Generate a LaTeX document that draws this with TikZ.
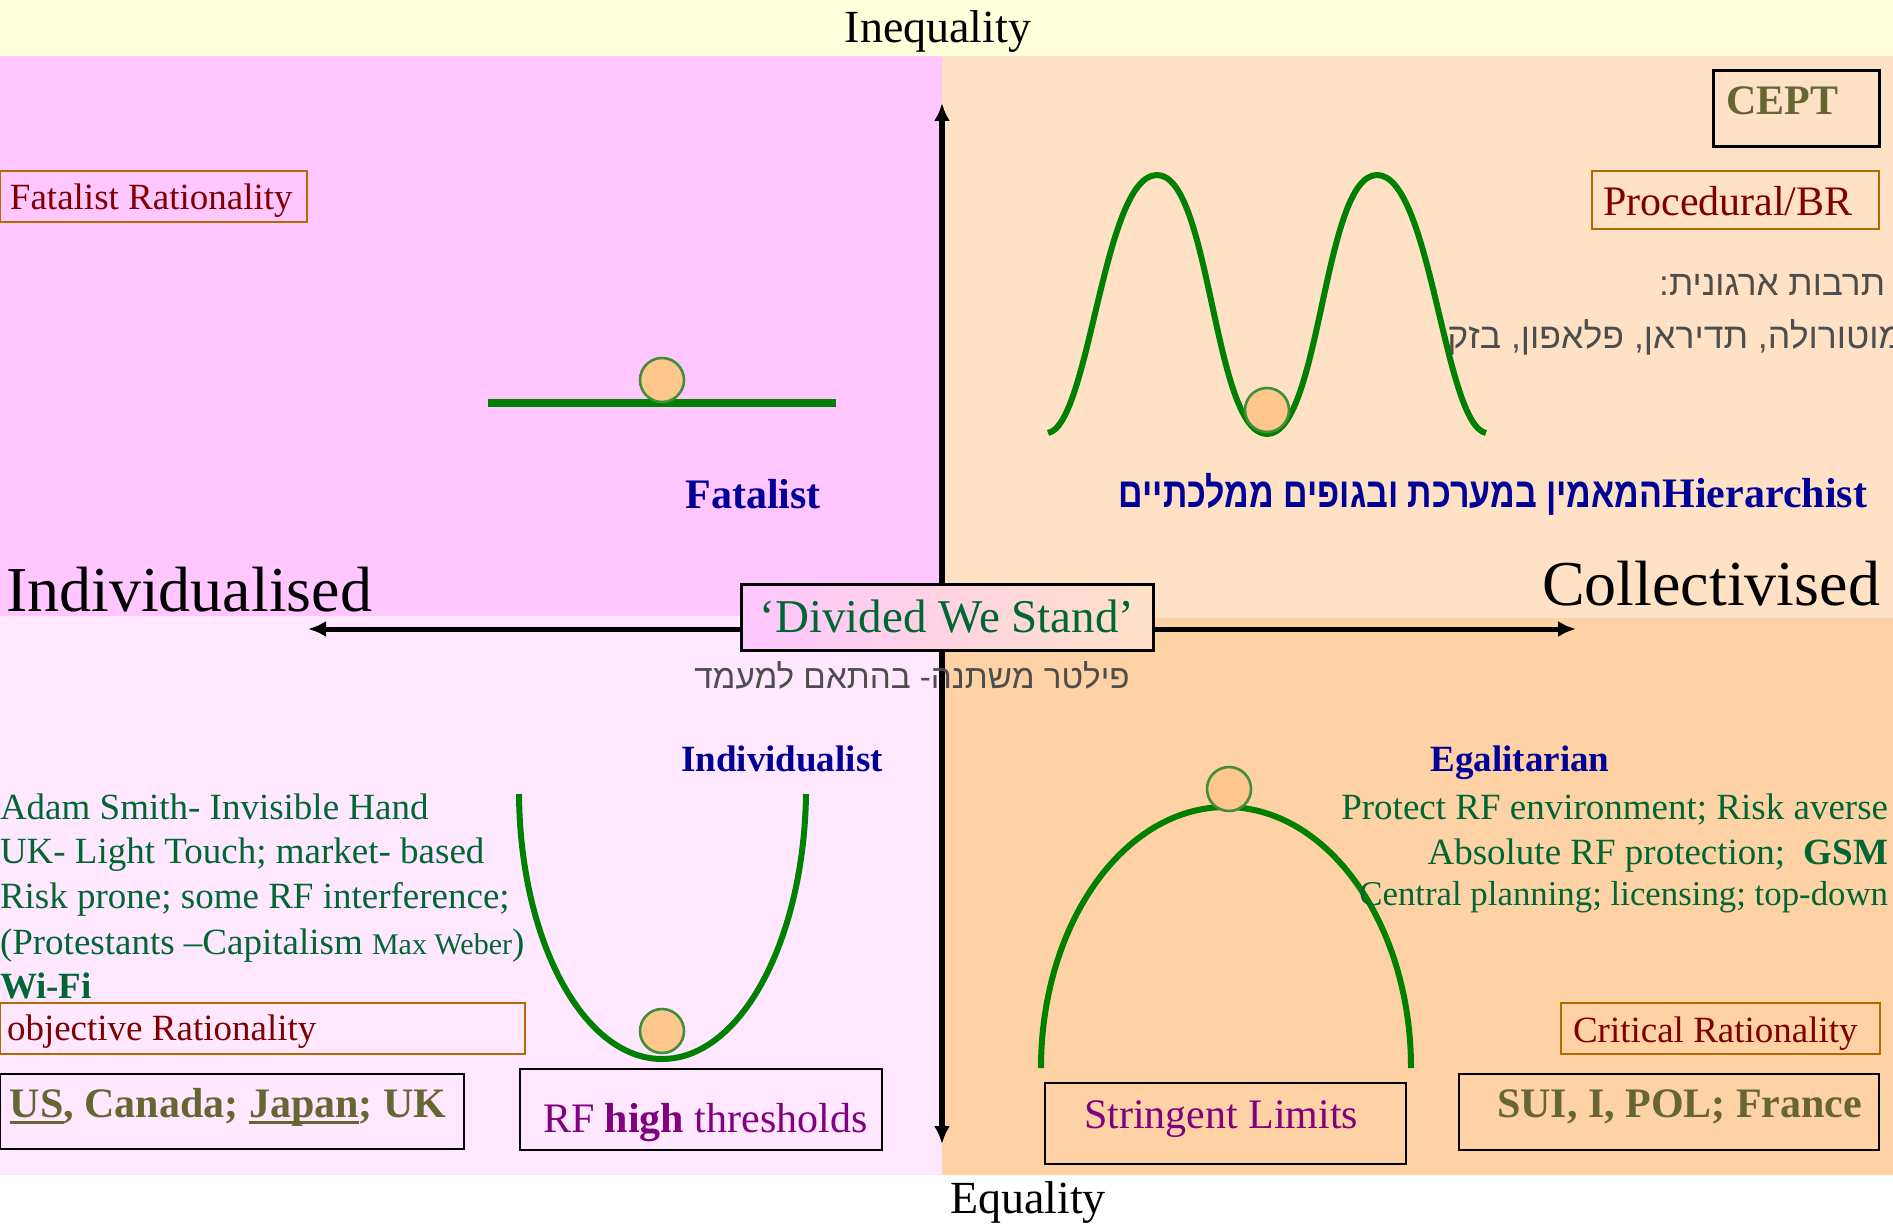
\documentclass[tikz,border=0pt]{standalone}
\usepackage{fontspec}
\usepackage{graphicx}
\setmainfont{Liberation Serif}
\newfontfamily\hebfont[Script=Hebrew]{Liberation Sans}
\TeXXeTstate=1
\usetikzlibrary{arrows.meta}
\definecolor{bgY}{HTML}{FFFFDC}
\definecolor{bgTL}{HTML}{FFC6FF}
\definecolor{bgBL}{HTML}{FFE8FF}
\definecolor{bgTR}{HTML}{FFE1C6}
\definecolor{bgBR}{HTML}{FFD2A5}
\definecolor{curveG}{HTML}{008000}
\definecolor{ballF}{HTML}{FFC78C}
\definecolor{ballB}{HTML}{3F8F3A}
\definecolor{txtG}{HTML}{006633}
\definecolor{dred}{HTML}{800000}
\definecolor{brownB}{HTML}{B36B00}
\definecolor{navy}{HTML}{000099}
\definecolor{olivet}{HTML}{666633}
\definecolor{purp}{HTML}{800080}
\definecolor{hgray}{HTML}{4D4D4D}
\newcommand\myfs[1]{\fontsize{#1pt}{#1pt}\selectfont}
\newcommand\myul[1]{\setbox0\hbox{#1}\rlap{\rule[-3.5pt]{\wd0}{1.3pt}}\box0}
\begin{document}
\begin{tikzpicture}[x=0.5pt,y=-0.5pt,
  t/.style={inner sep=0pt,outer sep=0pt},
  curve/.style={draw=curveG,line width=3pt},
  ball/.style={circle,draw=ballB,fill=ballF,line width=1.3pt,minimum size=22pt,inner sep=0pt},
  ratbox/.style={draw=brownB,line width=1pt},
  blkbox/.style={draw=black,line width=1pt},
  axisarrow/.style={line width=3pt,{Latex[length=9pt,width=8pt]}-{Latex[length=9pt,width=8pt]}},
  grn/.style={t,text=txtG,font=\myfs{18.5}},
  rat/.style={t,anchor=base west,text=dred,font=\myfs{18.5}},
  typ/.style={t,anchor=base,text=navy,font=\myfs{18.5}\bfseries},
  heb/.style={t,text=hgray,font=\hebfont\myfs{17.6}}]
% backgrounds
\useasboundingbox (0,0) rectangle (1893,1225);
\fill[white] (0,0) rectangle (1893,1225);
\fill[bgY] (0,0) rectangle (1893,56);
\fill[bgTL] (0,56) rectangle (942,616);
\fill[bgTR] (942,56) rectangle (1893,618);
\fill[bgBL] (0,616) rectangle (942,1175);
\fill[bgBR] (942,618) rectangle (1893,1175);
% axes
\coordinate (vtop) at (942,103);
\coordinate (vbot) at (942,1144);
\coordinate (hl) at (308,629);
\coordinate (hr) at (1576,629);
\draw[axisarrow] (vtop) -- (vbot);
\draw[axisarrow,line width=2.5pt] (hl) -- (hr);
% curves
\draw[curve,line width=4pt] (488,403) -- (836,403);
\draw[curve] (1048,433) .. controls (1090,425) and (1103,175) .. (1157,175)
  .. controls (1211,175) and (1213,434) .. (1267,434)
  .. controls (1321,434) and (1323,175) .. (1377,175)
  .. controls (1431,175) and (1444,425) .. (1486,433);
\draw[curve] (519,794) .. controls (520,940) and (583,1059) .. (662,1059)
  .. controls (741,1059) and (804,940) .. (806,794);
\draw[curve] (1041,1068) .. controls (1041,924) and (1124,807) .. (1226,807)
  .. controls (1328,807) and (1411,924) .. (1411,1068);
% balls
\node[ball] (b1) at (662,380) {};
\node[ball] (b2) at (1267,410) {};
\node[ball] (b3) at (662,1031) {};
\node[ball] (b4) at (1229,789) {};
% boxes
\draw[ratbox] (0,171) rectangle (307,222);
\draw[blkbox,line width=1.5pt] (1713,71) rectangle (1879,147);
\draw[ratbox] (1592,171) rectangle (1879,229);
\draw[ratbox] (0,1003) rectangle (525,1054);
\draw[blkbox] (0,1074) rectangle (464,1149);
\draw[blkbox] (520,1069) rectangle (882,1150);
\draw[blkbox] (1045,1083) rectangle (1406,1164);
\draw[ratbox] (1561,1003) rectangle (1880,1054);
\draw[blkbox] (1459,1074) rectangle (1879,1150);
% axis titles
\node[t,anchor=base,font=\myfs{23}] (ineq) at (938,43) {Inequality};
\node[t,anchor=base,font=\myfs{23}] (eq) at (1028,1213) {Equality};
\node[t,anchor=base west,font=\myfs{32}] (indiv) at (6,611) {Individualised};
\node[t,anchor=base east,font=\myfs{32}] (coll) at (1880,605) {Collectivised};
% rationality labels
\node[rat] (fr) at (10,210) {Fatalist Rationality};
\node[rat,font=\myfs{21}] (pbr) at (1603,215) {Procedural/BR};
\node[rat] (orat) at (7,1040) {objective Rationality};
\node[rat] (crat) at (1573,1042) {Critical Rationality};
% country boxes
\node[t,anchor=base west,text=olivet,font=\myfs{21}\bfseries] (cept) at (1726,115) {CEPT};
\node[t,anchor=base west,text=olivet,font=\myfs{21}\bfseries] (us) at (10,1117) {\myul{US}, Canada; \myul{Japan}; UK};
\node[t,anchor=base west,text=olivet,font=\myfs{21}\bfseries] (sui) at (1497,1117) {SUI, I, POL; France};
\node[t,anchor=base west,text=purp,font=\myfs{21}] (rf) at (543,1132) {RF \textbf{high} thresholds};
\node[t,anchor=base west,text=purp,font=\myfs{21}] (sl) at (1084,1128) {Stringent Limits};
% type names
\node[typ,font=\myfs{21}\bfseries] (fat) at (753,508) {Fatalist};
\node[typ] (ind) at (782,771) {Individualist};
\node[typ] (ega) at (1520,771) {Egalitarian};
\node[typ,anchor=base east,font=\myfs{21}\bfseries] (hier) at (1867,507) {\scalebox{0.81}[1]{\hebfont\beginR המאמין במערכת ובגופים ממלכתיים\endR}Hierarchist};
% green descriptions
\node[grn,anchor=base west] (l1) at (0,819) {Adam Smith- Invisible Hand};
\node[grn,anchor=base west] (l2) at (0,863) {UK- Light Touch; market- based};
\node[grn,anchor=base west] (l3) at (0,908) {Risk prone; some RF interference;};
\node[grn,anchor=base west] (l4) at (0,954) {(Protestants –Capitalism {\myfs{15}Max Weber})};
\node[grn,anchor=base west] (l5) at (0,998) {\textbf{Wi-Fi}};
\node[grn,anchor=base east] (r1) at (1888,819) {Protect RF environment; Risk averse};
\node[grn,anchor=base east] (r2) at (1888,864) {Absolute RF protection;\ \ \textbf{GSM}};
\node[grn,anchor=base east,font=\myfs{17.4}] (r3) at (1888,905) {Central planning; licensing; top-down};
% hebrew notes
\node[heb,anchor=base east] (h1) at (1885,295) {\beginR תרבות ארגונית:\endR};
\node[heb,anchor=base east,font=\hebfont\myfs{17.8}] (h2) at (1903,348) {\beginR מוטורולה, תדיראן, פלאפון, בזק\endR};
\node[heb,anchor=base,font=\hebfont\myfs{16.6}] (h3) at (912,688) {\beginR פילטר משתנה- בהתאם למעמד\endR};
% centre box
\node[draw=black,line width=1.5pt,left color=bgTL,right color=bgTR,minimum width=206pt,minimum height=33pt,inner sep=0pt,text=txtG,font=\myfs{23.5}] (dws) at (947,617) {‘Divided We Stand’};
\end{tikzpicture}
\end{document}
